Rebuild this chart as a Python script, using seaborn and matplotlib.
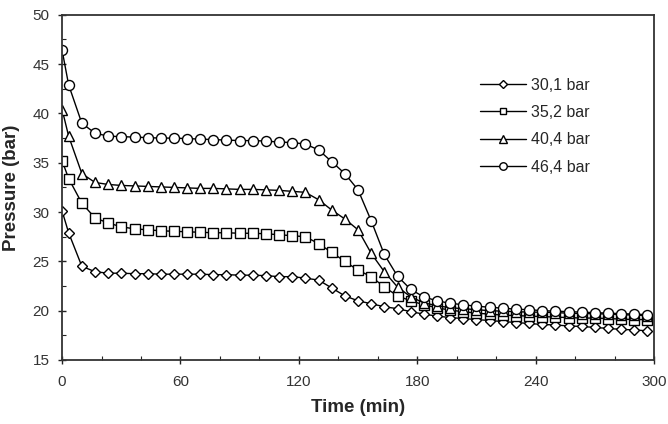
"""Pressure decay curves for four initial pressures (reference chart recreation)."""

import matplotlib

matplotlib.use("Agg")
import matplotlib.pyplot as plt
import seaborn as sns
from matplotlib.ticker import MultipleLocator

# Sampling times (min), shared by all four runs
time_min = [
    0, 3.3, 10, 16.7, 23.3, 30, 36.7, 43.3, 50, 56.7, 63.3, 70, 76.7, 83.3, 90, 96.7,
    103.3, 110, 116.7, 123.3, 130, 136.7, 143.3, 150, 156.7, 163.3, 170, 176.7, 183.3,
    190, 196.7, 203.3, 210, 216.7, 223.3, 230, 236.7, 243.3, 250, 256.7, 263.3, 270,
    276.7, 283.3, 290, 296.7,
]

p_30_1 = [
    30.1, 27.9, 24.5, 23.95, 23.8, 23.8, 23.75, 23.75, 23.7, 23.7, 23.7, 23.7, 23.65,
    23.65, 23.6, 23.6, 23.55, 23.45, 23.45, 23.3, 23.1, 22.3, 21.5, 21.0, 20.7, 20.4,
    20.2, 19.9, 19.65, 19.45, 19.3, 19.2, 19.1, 19.0, 18.9, 18.8, 18.7, 18.6, 18.55,
    18.45, 18.4, 18.3, 18.2, 18.1, 18.05, 17.95,
]
p_35_2 = [
    35.2, 33.4, 30.9, 29.4, 28.9, 28.5, 28.3, 28.2, 28.1, 28.05, 28.0, 27.95, 27.9,
    27.9, 27.85, 27.85, 27.8, 27.7, 27.6, 27.5, 26.8, 25.9, 25.0, 24.1, 23.45, 22.4,
    21.5, 21.0, 20.6, 20.3, 20.05, 19.9, 19.75, 19.65, 19.55, 19.5, 19.45, 19.4, 19.35,
    19.3, 19.25, 19.25, 19.2, 19.15, 19.1, 19.1,
]
p_40_4 = [
    40.4, 37.7, 33.9, 33.0, 32.8, 32.7, 32.65, 32.6, 32.55, 32.5, 32.45, 32.4, 32.4,
    32.35, 32.3, 32.3, 32.25, 32.2, 32.1, 32.0, 31.25, 30.2, 29.3, 28.2, 25.8, 23.95,
    22.4, 21.4, 20.8, 20.5, 20.3, 20.2, 20.1, 20.0, 19.95, 19.9, 19.85, 19.85, 19.8,
    19.75, 19.7, 19.7, 19.65, 19.6, 19.55, 19.5,
]
p_46_4 = [
    46.4, 42.9, 39.0, 38.0, 37.7, 37.65, 37.6, 37.55, 37.5, 37.5, 37.45, 37.4, 37.35,
    37.3, 37.25, 37.25, 37.2, 37.1, 37.05, 36.9, 36.3, 35.1, 33.9, 32.25, 29.1, 25.7,
    23.5, 22.15, 21.4, 21.0, 20.75, 20.6, 20.45, 20.35, 20.25, 20.15, 20.1, 20.0, 19.95,
    19.9, 19.85, 19.8, 19.75, 19.7, 19.65, 19.6,
]

series_labels = ["30,1 bar", "35,2 bar", "40,4 bar", "46,4 bar"]
series_values = [p_30_1, p_35_2, p_40_4, p_46_4]
series_markers = ["D", "s", "^", "o"]
marker_sizes = [5.2, 6.6, 7.2, 7.2]

sns.set_theme(style="ticks")
plt.rcParams["font.family"] = ["Liberation Sans", "DejaVu Sans"]

fig = plt.figure(figsize=(6.68, 4.24), dpi=100)
ax = fig.add_axes([0.093, 0.151, 0.886, 0.814])

for label, vals, mk, ms in zip(series_labels, series_values, series_markers, marker_sizes):
    sns.lineplot(
        x=time_min, y=vals, ax=ax, label=label, color="black", linewidth=1.0,
        marker=mk, markersize=ms, markerfacecolor="white", markeredgecolor="black",
        markeredgewidth=1.0,
    )

ax.set_xlim(0, 300)
ax.set_ylim(15, 50)
ax.xaxis.set_major_locator(MultipleLocator(60))
ax.xaxis.set_minor_locator(MultipleLocator(20))
ax.yaxis.set_major_locator(MultipleLocator(5))
ax.yaxis.set_minor_locator(MultipleLocator(2.5))
ax.tick_params(which="major", direction="inout", length=6, width=1, color="#222222",
               labelsize=11, labelcolor="#333333")
ax.tick_params(axis="x", which="major", pad=8)
ax.tick_params(axis="y", which="major", pad=6)
ax.tick_params(which="minor", direction="in", length=3, width=0.8, color="#222222")
for side in ["top", "right", "left", "bottom"]:
    ax.spines[side].set_visible(True)
    ax.spines[side].set_color("#333333")
    ax.spines[side].set_linewidth(1.3)

ax.set_xlabel("Time (min)", fontsize=13.5, fontweight="bold", labelpad=7)
ax.set_ylabel("Pressure (bar)", fontsize=13.5, fontweight="bold", labelpad=9)

ax.legend(
    loc="upper left", bbox_to_anchor=(0.682, 0.86), frameon=False, fontsize=11.5,
    handlelength=2.9, handletextpad=0.3, labelspacing=0.78, markerscale=0.75,
)

fig.savefig("out.png", dpi=100)
plt.close(fig)
